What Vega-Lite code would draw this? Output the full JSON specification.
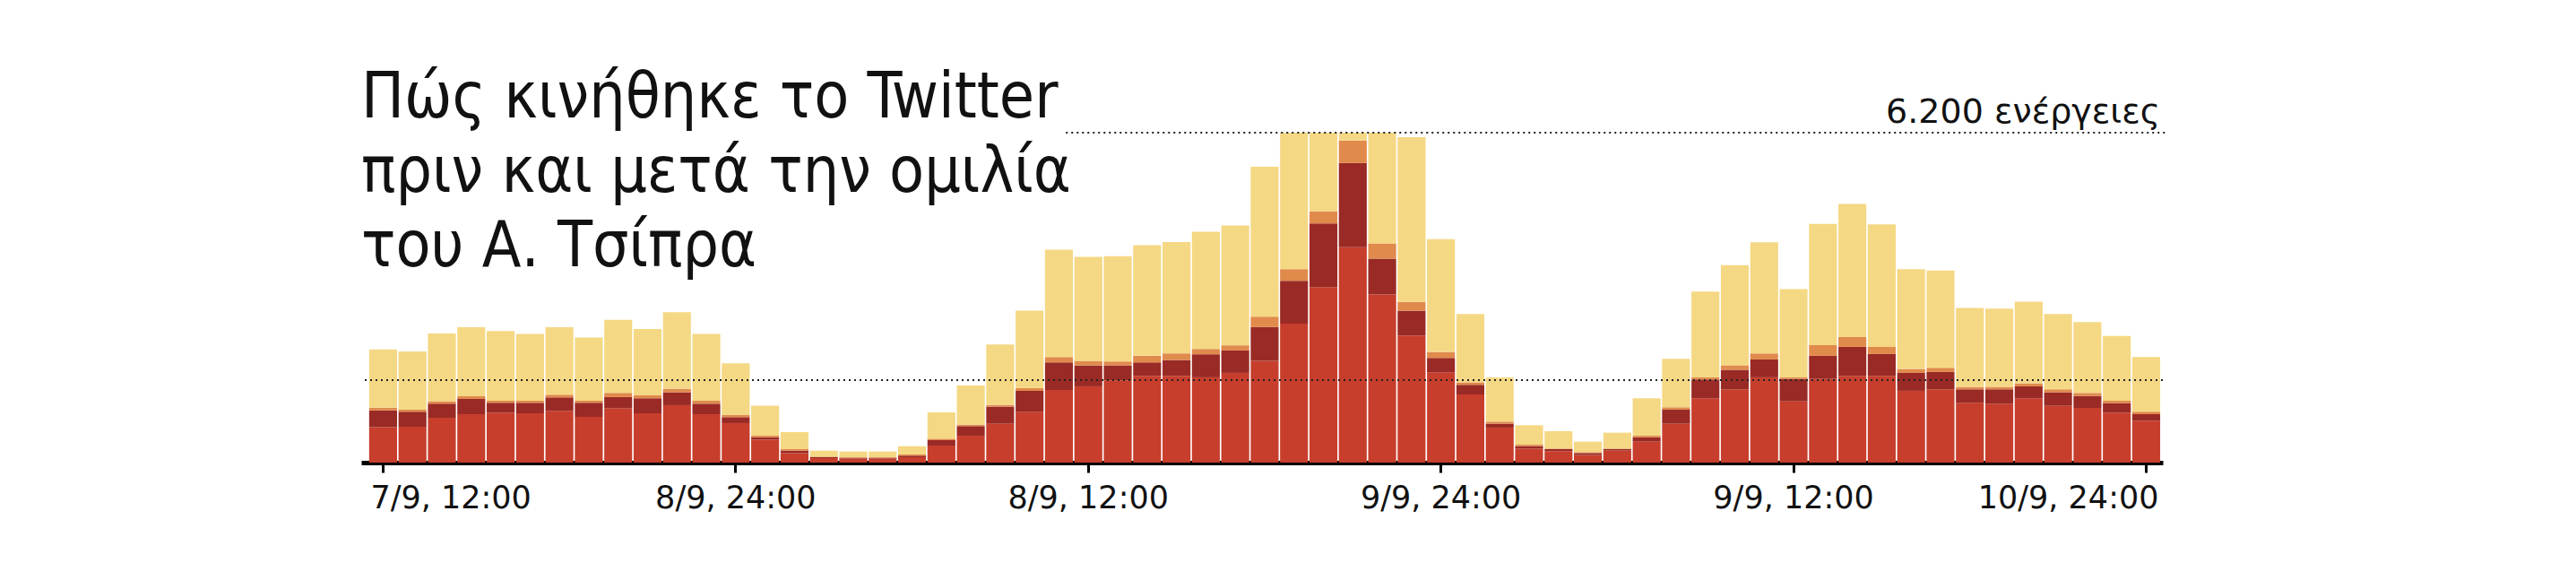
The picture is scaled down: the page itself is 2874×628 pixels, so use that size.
{
  "$schema": "https://vega.github.io/schema/vega-lite/v6.json",
  "autosize": {"type": "none"},
  "padding": {"left": 403, "top": 148, "right": 461, "bottom": 112},
  "width": 2010,
  "height": 368,
  "background": "white",
  "title": {
    "text": ["Πώς κινήθηκε το Twitter", "πριν και μετά την ομιλία", "του Α. Τσίπρα"],
    "anchor": "start",
    "frame": "group",
    "orient": "top",
    "font": "Liberation Sans Narrow, DejaVu Sans Condensed, Roboto",
    "fontSize": 71,
    "fontWeight": "normal",
    "lineHeight": 83,
    "color": "#111111",
    "baseline": "bottom",
    "offset": -276
  },
  "config": {"view": {"stroke": null}},
  "data": {
    "values": [
      {"t": "7/9, 12:00", "s1": 665, "s2": 315, "s3": 50, "s4": 1095},
      {"t": "7/9, 13:00", "s1": 674, "s2": 281, "s3": 39, "s4": 1096},
      {"t": "7/9, 14:00", "s1": 843, "s2": 264, "s3": 45, "s4": 1276},
      {"t": "7/9, 15:00", "s1": 910, "s2": 287, "s3": 51, "s4": 1298},
      {"t": "7/9, 16:00", "s1": 939, "s2": 185, "s3": 39, "s4": 1309},
      {"t": "7/9, 17:00", "s1": 927, "s2": 197, "s3": 39, "s4": 1253},
      {"t": "7/9, 18:00", "s1": 972, "s2": 253, "s3": 51, "s4": 1270},
      {"t": "7/9, 19:00", "s1": 860, "s2": 264, "s3": 39, "s4": 1186},
      {"t": "7/9, 20:00", "s1": 1023, "s2": 208, "s3": 79, "s4": 1371},
      {"t": "7/9, 21:00", "s1": 927, "s2": 281, "s3": 56, "s4": 1248},
      {"t": "7/9, 22:00", "s1": 1079, "s2": 242, "s3": 67, "s4": 1439},
      {"t": "7/9, 23:00", "s1": 910, "s2": 197, "s3": 56, "s4": 1253},
      {"t": "8/9, 24:00", "s1": 742, "s2": 112, "s3": 45, "s4": 967},
      {"t": "8/9, 01:00", "s1": 433, "s2": 45, "s3": 28, "s4": 562},
      {"t": "8/9, 02:00", "s1": 180, "s2": 45, "s3": 28, "s4": 320},
      {"t": "8/9, 03:00", "s1": 84, "s2": 17, "s3": 11, "s4": 112},
      {"t": "8/9, 04:00", "s1": 73, "s2": 17, "s3": 11, "s4": 107},
      {"t": "8/9, 05:00", "s1": 73, "s2": 17, "s3": 11, "s4": 107},
      {"t": "8/9, 06:00", "s1": 101, "s2": 28, "s3": 22, "s4": 157},
      {"t": "8/9, 07:00", "s1": 320, "s2": 101, "s3": 28, "s4": 495},
      {"t": "8/9, 08:00", "s1": 506, "s2": 180, "s3": 28, "s4": 736},
      {"t": "8/9, 09:00", "s1": 731, "s2": 320, "s3": 34, "s4": 1135},
      {"t": "8/9, 10:00", "s1": 955, "s2": 393, "s3": 56, "s4": 1450},
      {"t": "8/9, 11:00", "s1": 1366, "s2": 517, "s3": 101, "s4": 2018},
      {"t": "8/9, 12:00", "s1": 1433, "s2": 393, "s3": 84, "s4": 1956},
      {"t": "8/9, 13:00", "s1": 1546, "s2": 281, "s3": 73, "s4": 1978},
      {"t": "8/9, 14:00", "s1": 1630, "s2": 253, "s3": 124, "s4": 2079},
      {"t": "8/9, 15:00", "s1": 1630, "s2": 298, "s3": 124, "s4": 2091},
      {"t": "8/9, 16:00", "s1": 1602, "s2": 433, "s3": 101, "s4": 2203},
      {"t": "8/9, 17:00", "s1": 1686, "s2": 422, "s3": 96, "s4": 2254},
      {"t": "8/9, 18:00", "s1": 1911, "s2": 635, "s3": 197, "s4": 2816},
      {"t": "8/9, 19:00", "s1": 2613, "s2": 804, "s3": 219, "s4": 2563},
      {"t": "8/9, 20:00", "s1": 3299, "s2": 1197, "s3": 225, "s4": 1478},
      {"t": "8/9, 21:00", "s1": 4046, "s2": 1585, "s3": 422, "s4": 146},
      {"t": "8/9, 22:00", "s1": 3158, "s2": 674, "s3": 287, "s4": 2079},
      {"t": "8/9, 23:00", "s1": 2389, "s2": 466, "s3": 163, "s4": 3097},
      {"t": "9/9, 24:00", "s1": 1697, "s2": 270, "s3": 112, "s4": 2119},
      {"t": "9/9, 01:00", "s1": 1281, "s2": 180, "s3": 45, "s4": 1287},
      {"t": "9/9, 02:00", "s1": 658, "s2": 73, "s3": 39, "s4": 832},
      {"t": "9/9, 03:00", "s1": 264, "s2": 45, "s3": 28, "s4": 365},
      {"t": "9/9, 04:00", "s1": 214, "s2": 39, "s3": 11, "s4": 326},
      {"t": "9/9, 05:00", "s1": 141, "s2": 39, "s3": 17, "s4": 197},
      {"t": "9/9, 06:00", "s1": 225, "s2": 28, "s3": 11, "s4": 298},
      {"t": "9/9, 07:00", "s1": 393, "s2": 84, "s3": 28, "s4": 703},
      {"t": "9/9, 08:00", "s1": 731, "s2": 264, "s3": 45, "s4": 910},
      {"t": "9/9, 09:00", "s1": 1208, "s2": 354, "s3": 39, "s4": 1613},
      {"t": "9/9, 10:00", "s1": 1377, "s2": 365, "s3": 84, "s4": 1883},
      {"t": "9/9, 11:00", "s1": 1602, "s2": 337, "s3": 112, "s4": 2091},
      {"t": "9/9, 12:00", "s1": 1152, "s2": 422, "s3": 28, "s4": 1658},
      {"t": "9/9, 13:00", "s1": 1574, "s2": 433, "s3": 202, "s4": 2276},
      {"t": "9/9, 14:00", "s1": 1630, "s2": 545, "s3": 185, "s4": 2501},
      {"t": "9/9, 15:00", "s1": 1630, "s2": 410, "s3": 135, "s4": 2304},
      {"t": "9/9, 16:00", "s1": 1349, "s2": 337, "s3": 73, "s4": 1877},
      {"t": "9/9, 17:00", "s1": 1377, "s2": 326, "s3": 79, "s4": 1827},
      {"t": "9/9, 18:00", "s1": 1124, "s2": 253, "s3": 45, "s4": 1484},
      {"t": "9/9, 19:00", "s1": 1107, "s2": 270, "s3": 45, "s4": 1472},
      {"t": "9/9, 20:00", "s1": 1208, "s2": 225, "s3": 56, "s4": 1534},
      {"t": "9/9, 21:00", "s1": 1068, "s2": 253, "s3": 56, "s4": 1416},
      {"t": "9/9, 22:00", "s1": 1028, "s2": 225, "s3": 56, "s4": 1332},
      {"t": "9/9, 23:00", "s1": 939, "s2": 180, "s3": 45, "s4": 1214},
      {"t": "10/9, 24:00", "s1": 787, "s2": 124, "s3": 45, "s4": 1028}
    ]
  },
  "layer": [
    {
      "transform": [{"fold": ["s1", "s2", "s3", "s4"], "as": ["series", "value"]}],
      "mark": {"type": "bar"},
      "encoding": {
        "x": {
          "field": "t",
          "type": "ordinal",
          "scale": {
            "domain": [
              "7/9, 12:00", "7/9, 13:00", "7/9, 14:00", "7/9, 15:00", "7/9, 16:00", "7/9, 17:00",
              "7/9, 18:00", "7/9, 19:00", "7/9, 20:00", "7/9, 21:00", "7/9, 22:00", "7/9, 23:00",
              "8/9, 24:00", "8/9, 01:00", "8/9, 02:00", "8/9, 03:00", "8/9, 04:00", "8/9, 05:00",
              "8/9, 06:00", "8/9, 07:00", "8/9, 08:00", "8/9, 09:00", "8/9, 10:00", "8/9, 11:00",
              "8/9, 12:00", "8/9, 13:00", "8/9, 14:00", "8/9, 15:00", "8/9, 16:00", "8/9, 17:00",
              "8/9, 18:00", "8/9, 19:00", "8/9, 20:00", "8/9, 21:00", "8/9, 22:00", "8/9, 23:00",
              "9/9, 24:00", "9/9, 01:00", "9/9, 02:00", "9/9, 03:00", "9/9, 04:00", "9/9, 05:00",
              "9/9, 06:00", "9/9, 07:00", "9/9, 08:00", "9/9, 09:00", "9/9, 10:00", "9/9, 11:00",
              "9/9, 12:00", "9/9, 13:00", "9/9, 14:00", "9/9, 15:00", "9/9, 16:00", "9/9, 17:00",
              "9/9, 18:00", "9/9, 19:00", "9/9, 20:00", "9/9, 21:00", "9/9, 22:00", "9/9, 23:00",
              "10/9, 24:00"
            ],
            "paddingInner": 0.05,
            "paddingOuter": 0.18,
            "align": 0.75
          },
          "axis": {
            "title": null,
            "values": ["7/9, 12:00", "8/9, 24:00", "8/9, 12:00", "9/9, 24:00", "9/9, 12:00", "10/9, 24:00"],
            "labelAngle": 0,
            "domainColor": "#000000",
            "domainWidth": 5,
            "tickColor": "#000000",
            "tickWidth": 3,
            "tickSize": 11,
            "labelFont": "DejaVu Sans",
            "labelFontSize": 35,
            "labelColor": "#111111",
            "labelPadding": 11,
            "labelLimit": 400,
            "labelFlush": 45,
            "labelFlushOffset": 14,
            "labelOverlap": false
          }
        },
        "y": {
          "field": "value",
          "type": "quantitative",
          "stack": "zero",
          "scale": {"domain": [0, 6200], "nice": false},
          "axis": null
        },
        "color": {
          "field": "series",
          "type": "nominal",
          "scale": {"domain": ["s1", "s2", "s3", "s4"], "range": ["#c73e2c", "#9a2a25", "#e08a4c", "#f5d884"]},
          "legend": null
        },
        "order": {"field": "series", "sort": "ascending"}
      }
    },
    {
      "data": {"values": [{"level": 1550}]},
      "mark": {"type": "rule", "strokeDash": [2, 4], "strokeWidth": 2.2, "color": "#222222"},
      "encoding": {"y": {"field": "level", "type": "quantitative"}}
    },
    {
      "data": {"values": [{"level": 6200, "from": "8/9, 11:00", "to": "10/9, 24:00"}]},
      "mark": {"type": "rule", "strokeDash": [2, 4], "strokeWidth": 2.2, "color": "#222222"},
      "encoding": {
        "y": {"field": "level", "type": "quantitative"},
        "x": {"field": "from", "type": "ordinal", "bandPosition": 0.75},
        "x2": {"field": "to", "bandPosition": 1.2}
      }
    },
    {
      "data": {"values": [{"level": 6200, "at": "10/9, 24:00", "label": "6.200 ενέργειες"}]},
      "mark": {"type": "text", "align": "right", "baseline": "alphabetic", "dy": -11, "font": "DejaVu Sans", "fontSize": 38, "color": "#111111"},
      "encoding": {
        "x": {"field": "at", "type": "ordinal", "bandPosition": 1},
        "y": {"field": "level", "type": "quantitative"},
        "text": {"field": "label"}
      }
    }
  ]
}
